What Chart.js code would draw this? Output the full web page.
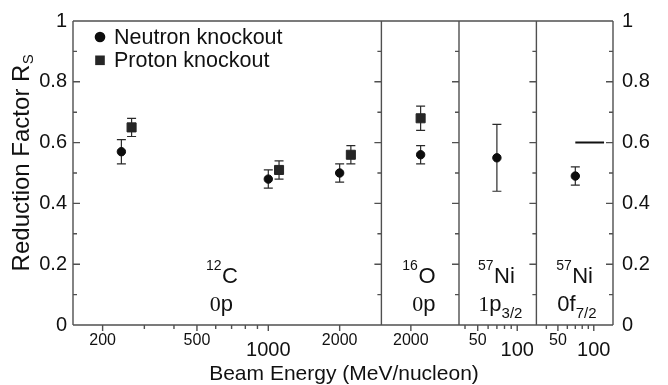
<!DOCTYPE html>
<html><head><meta charset="utf-8">
<script src="https://cdn.jsdelivr.net/npm/chart.js@4"></script>
<style>html,body{margin:0;padding:0;background:#fff;overflow:hidden}#wrap{width:668px;height:385px;position:relative}</style>
</head><body><div id="wrap"><canvas id="c"></canvas></div>
<script>
// ---------------- data ----------------
const panelIds = ['x1', 'x2', 'x3', 'x4'];

const neutronPanel  = ['x1', 'x1', 'x1', 'x2', 'x3', 'x4'];
const neutronEnergy = [240, 1000, 2000, 2200, 70, 70];
const neutronRs     = [0.57, 0.48, 0.50, 0.56, 0.55, 0.49];
const neutronErr    = [0.04, 0.03, 0.03, 0.03, 0.11, 0.03];

const protonPanel   = ['x1', 'x1', 'x1', 'x2'];
const protonEnergy  = [265, 1110, 2230, 2200];
const protonRs      = [0.65, 0.51, 0.56, 0.68];
const protonErr     = [0.03, 0.03, 0.03, 0.04];

const refLinePanel  = 'x4';
const refLineEnergy = [70, 122];
const refLineRs     = [0.6, 0.6];

const yTickValues  = [0, 0.2, 0.4, 0.6, 0.8, 1];
const yTickLabels  = ['0', '0.2', '0.4', '0.6', '0.8', '1'];
const yMinorValues = [0.1, 0.3, 0.5, 0.7, 0.9];

const x1TickValues = [200, 500, 1000, 2000];
const x1TickLabels = ['200', '500', '1000', '2000'];
const x1MinorTicks = [300, 400, 600, 700, 800, 900];
const x2TickValues = [2000];
const x2TickLabels = ['2000'];
const x2MinorTicks = [];
const x3TickValues = [50, 100];
const x3TickLabels = ['50', '100'];
const x3MinorTicks = [40, 60, 70, 80, 90];
const x4TickValues = [50, 100];
const x4TickLabels = ['50', '100'];
const x4MinorTicks = [40, 60, 70, 80, 90];
const bigTickLabels = ['1000', '100'];

const panelNucleusMass = ['12', '16', '57', '57'];
const panelNucleus     = ['C', 'O', 'Ni', 'Ni'];
const panelShellN      = ['0', '0', '1', '0'];
const panelShellL      = ['p', 'p', 'p', 'f'];
const panelShellJ      = ['', '', '3/2', '7/2'];

const seriesNames = ['Neutron knockout', 'Proton knockout'];
const xTitle = 'Beam Energy (MeV/nucleon)';
const yTitle = 'Reduction Factor R';
const yTitleSub = 'S';

// ---------------- style ----------------
const SANS = "'Liberation Sans', Arial, Helvetica, sans-serif";
const SERIF = "'Liberation Serif', 'Times New Roman', serif";
const INK = '#111111';
const FRAME = '#505050';
const NEUTRON_COLOR = '#0d0d0d';
const PROTON_COLOR = '#262626';

const xTickSets = {
  x1: {v: x1TickValues, l: x1TickLabels, m: x1MinorTicks},
  x2: {v: x2TickValues, l: x2TickLabels, m: x2MinorTicks},
  x3: {v: x3TickValues, l: x3TickLabels, m: x3MinorTicks},
  x4: {v: x4TickValues, l: x4TickLabels, m: x4MinorTicks}
};
const xLimits = {x1: [150, 3000], x2: [1500, 3200], x3: [36, 140], x4: [33, 145]};
const xWeights = {x1: 308.4, x2: 77.6, x3: 77.4, x4: 76.6};

function xAxis(id) {
  const set = xTickSets[id];
  return {
    type: 'logarithmic', position: 'bottom', stack: 'energy', stackWeight: xWeights[id],
    min: xLimits[id][0], max: xLimits[id][1], offset: false,
    grid: {display: false, drawTicks: false}, border: {display: false},
    afterBuildTicks: s => { s.ticks = set.v.map(v => ({value: v})); },
    afterFit: s => { s.height = 60; },
    ticks: {
      autoSkip: false, maxRotation: 0, minRotation: 0, padding: 6, color: INK,
      callback: (v, i) => set.l[i],
      font: ctx => bigTickLabels.includes(set.l[ctx.index])
        ? {family: SANS, size: 20, lineHeight: 1.93}
        : {family: SANS, size: 16, lineHeight: 1.2}
    }
  };
}

function yAxis(pos, width, pad) {
  return {
    type: 'linear', position: pos, min: 0, max: 1,
    grid: {display: false, drawTicks: false}, border: {display: false},
    afterBuildTicks: s => { s.ticks = yTickValues.map(v => ({value: v})); },
    afterFit: s => { s.width = width; },
    ticks: {padding: pad, color: INK, font: {family: SANS, size: 20}, callback: (v, i) => yTickLabels[i]}
  };
}

// ---------------- datasets ----------------
function series(panels, xs, ys, errs, style) {
  const out = [];
  panelIds.forEach(pid => {
    const idx = panels.map((p, i) => p === pid ? i : -1).filter(i => i >= 0);
    if (!idx.length) return;
    out.push(Object.assign({
      type: 'scatter', xAxisID: pid, yAxisID: 'y',
      data: idx.map(i => ({x: xs[i], y: ys[i]})),
      errs: idx.map(i => errs[i])
    }, style));
  });
  return out;
}
const neutronStyle = {pointStyle: 'circle', pointRadius: 4.2, backgroundColor: NEUTRON_COLOR, borderColor: NEUTRON_COLOR, borderWidth: 1};
const protonStyle = {pointStyle: 'rect', pointRadius: 6.4, backgroundColor: PROTON_COLOR, borderColor: PROTON_COLOR, borderWidth: 1};

const datasets = [
  ...series(neutronPanel, neutronEnergy, neutronRs, neutronErr, neutronStyle),
  ...series(protonPanel, protonEnergy, protonRs, protonErr, protonStyle),
  {
    type: 'line', xAxisID: refLinePanel, yAxisID: 'y',
    data: refLineEnergy.map((e, i) => ({x: e, y: refLineRs[i]})),
    borderColor: INK, borderWidth: 2, pointRadius: 0, fill: false
  }
];

// ---------------- plugins ----------------
const errorBars = {
  id: 'errorBars',
  beforeDatasetsDraw(chart) {
    const ctx = chart.ctx;
    ctx.save();
    ctx.strokeStyle = '#2a2a2a';
    ctx.lineWidth = 1.2;
    chart.data.datasets.forEach((ds, i) => {
      if (!ds.errs) return;
      const meta = chart.getDatasetMeta(i);
      const ys = chart.scales[ds.yAxisID];
      meta.data.forEach((pt, j) => {
        const v = ds.data[j].y, e = ds.errs[j];
        const yt = ys.getPixelForValue(v + e), yb = ys.getPixelForValue(v - e);
        ctx.beginPath();
        ctx.moveTo(pt.x, yt); ctx.lineTo(pt.x, yb);
        ctx.moveTo(pt.x - 4.5, yt); ctx.lineTo(pt.x + 4.5, yt);
        ctx.moveTo(pt.x - 4.5, yb); ctx.lineTo(pt.x + 4.5, yb);
        ctx.stroke();
      });
    });
    ctx.restore();
  }
};

const frame = {
  id: 'frame',
  beforeDatasetsDraw(chart) {
    const {ctx, chartArea: a, scales} = chart;
    const ys = scales.y;
    ctx.save();
    ctx.strokeStyle = FRAME;
    ctx.lineWidth = 1.4;
    ctx.beginPath();
    ctx.moveTo(a.left, a.top); ctx.lineTo(a.right, a.top);
    ctx.moveTo(a.left, a.bottom); ctx.lineTo(a.right, a.bottom);
    ctx.moveTo(a.left, a.top); ctx.lineTo(a.left, a.bottom);
    panelIds.forEach(pid => { const r = scales[pid].right; ctx.moveTo(r, a.top); ctx.lineTo(r, a.bottom); });
    const yt = (v, len) => {
      const py = ys.getPixelForValue(v);
      ctx.moveTo(a.left, py); ctx.lineTo(a.left + len, py);
      panelIds.forEach(pid => { const r = scales[pid].right; ctx.moveTo(r - len, py); ctx.lineTo(r, py); });
    };
    yTickValues.forEach(v => yt(v, 7));
    yMinorValues.forEach(v => yt(v, 4));
    panelIds.forEach(pid => {
      const s = scales[pid], set = xTickSets[pid];
      set.v.forEach(v => { const px = s.getPixelForValue(v); ctx.moveTo(px, a.bottom); ctx.lineTo(px, a.bottom + 6); });
      set.m.forEach(v => { const px = s.getPixelForValue(v); ctx.moveTo(px, a.bottom); ctx.lineTo(px, a.bottom + 4); });
    });
    ctx.stroke();
    ctx.restore();
  }
};

const texts = {
  id: 'texts',
  afterDraw(chart) {
    const {ctx, chartArea: a, scales} = chart;
    ctx.save();
    ctx.fillStyle = INK;
    ctx.textBaseline = 'alphabetic';

    // legend
    const lx = a.left + 27;
    ctx.fillStyle = NEUTRON_COLOR;
    ctx.beginPath(); ctx.arc(lx, a.top + 16, 5.3, 0, Math.PI * 2); ctx.fill();
    ctx.fillStyle = PROTON_COLOR;
    ctx.fillRect(lx - 4.8, a.top + 39.3 - 4.8, 9.6, 9.6);
    ctx.fillStyle = INK;
    ctx.font = `21.5px ${SANS}`;
    ctx.textAlign = 'left';
    ctx.fillText(seriesNames[0], a.left + 41, a.top + 23);
    ctx.fillText(seriesNames[1], a.left + 41, a.top + 46);

    // x title
    ctx.font = `21px ${SANS}`;
    ctx.textAlign = 'center';
    ctx.fillText(xTitle, (a.left + a.right) / 2 + 1, a.bottom + 55);

    // y title (rotated, with subscript)
    ctx.save();
    ctx.translate(28.5, 163);
    ctx.rotate(-Math.PI / 2);
    ctx.font = `24px ${SANS}`;
    const w1 = ctx.measureText(yTitle).width;
    ctx.font = `15px ${SANS}`;
    const w2 = ctx.measureText(yTitleSub).width;
    const x0 = -(w1 + w2) / 2;
    ctx.textAlign = 'left';
    ctx.font = `24px ${SANS}`;
    ctx.fillText(yTitle, x0, 0);
    ctx.font = `15px ${SANS}`;
    ctx.fillText(yTitleSub, x0 + w1 + 0.5, 4);
    ctx.restore();

    // panel labels
    const nucRight = [143.5, 23.5, 21.5, 20];
    const orbRight = [148.5, 23.5, 14, 16.5];
    const serifN = [true, true, true, false];
    ctx.textAlign = 'right';
    panelIds.forEach((pid, k) => {
      const s = scales[pid];
      let R = s.right - nucRight[k];
      ctx.font = `22px ${SANS}`;
      const wm = ctx.measureText(panelNucleus[k]).width;
      ctx.fillText(panelNucleus[k], R, a.bottom - 42);
      ctx.font = `14px ${SANS}`;
      ctx.fillText(panelNucleusMass[k], R - wm - 0.5, a.bottom - 55);

      R = s.right - orbRight[k];
      ctx.font = `15px ${SANS}`;
      const wj = panelShellJ[k] ? ctx.measureText(panelShellJ[k]).width : 0;
      if (panelShellJ[k]) ctx.fillText(panelShellJ[k], R, a.bottom - 7);
      ctx.font = `22px ${SANS}`;
      const wl = ctx.measureText(panelShellL[k]).width;
      ctx.fillText(panelShellL[k], R - wj, a.bottom - 14);
      ctx.font = `22px ${serifN[k] ? SERIF : SANS}`;
      ctx.fillText(panelShellN[k], R - wj - wl, a.bottom - 14);
    });
    ctx.restore();
  }
};

Chart.defaults.font.family = SANS;
Chart.defaults.color = INK;

const scales = {
  y: yAxis('left', 73, 6),
  y2: yAxis('right', 55, 9)
};
panelIds.forEach(pid => { scales[pid] = xAxis(pid); });

new Chart(document.getElementById('c'), {
  data: {datasets},
  options: {
    responsive: true, maintainAspectRatio: false, animation: false,
    layout: {padding: {top: 16, left: 0, right: 0, bottom: 0}},
    plugins: {legend: {display: false}, tooltip: {enabled: false}},
    scales
  },
  plugins: [frame, errorBars, texts]
});
</script></body></html>
